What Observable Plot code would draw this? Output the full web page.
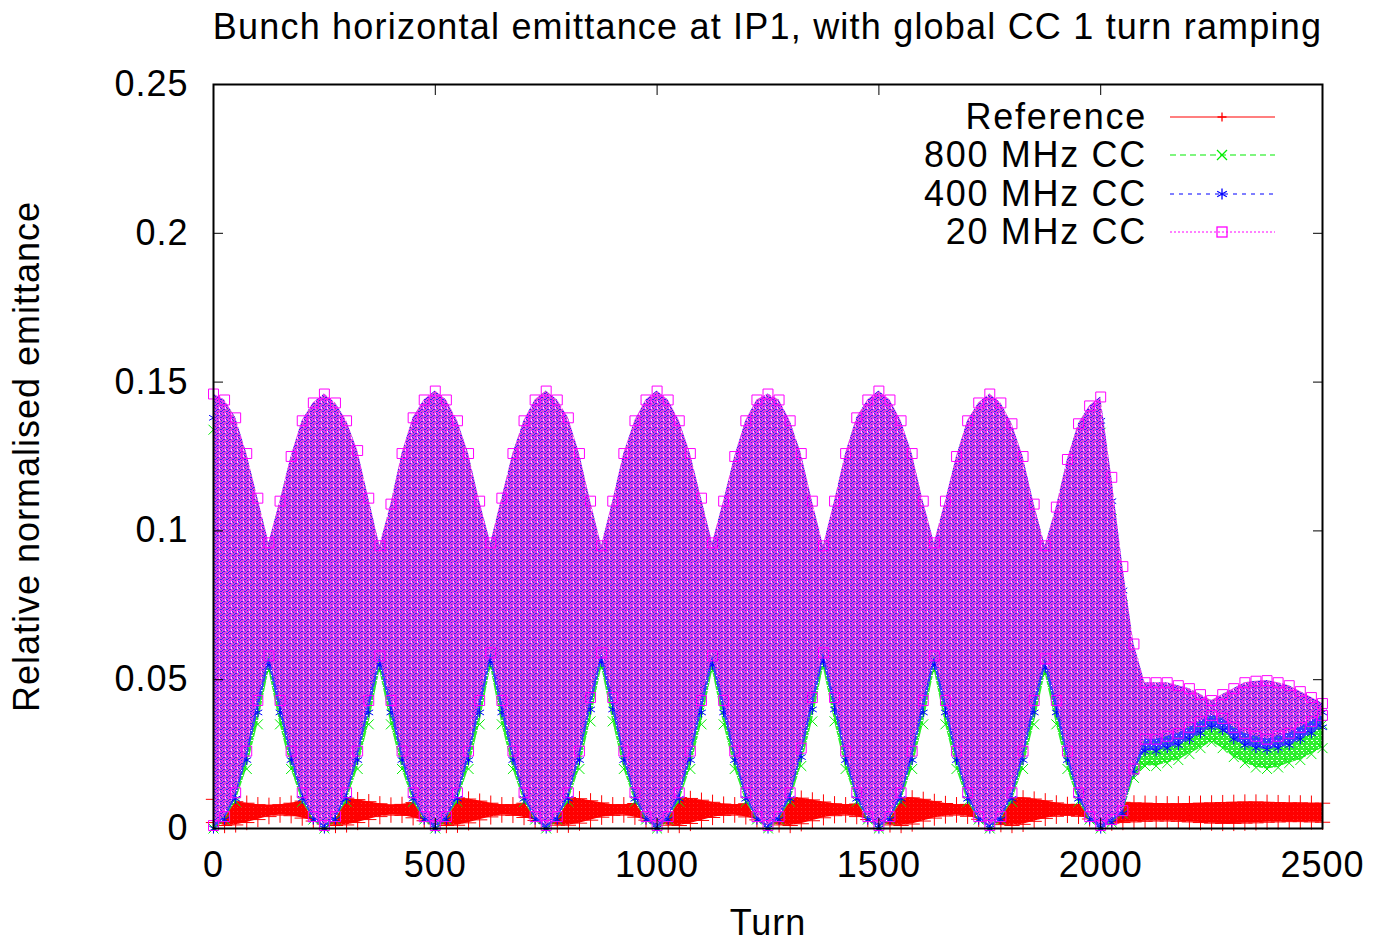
<!DOCTYPE html>
<html>
<head>
<meta charset="utf-8">
<script src="https://cdn.jsdelivr.net/npm/d3@7"></script>
<script src="https://cdn.jsdelivr.net/npm/@observablehq/plot@0.6"></script>
<style>
  body { margin: 0; background: #fff; font-family: "Liberation Sans", Arial, sans-serif; }
  #wrap { position: relative; width: 1373px; height: 942px; overflow: hidden; }
  #title { position: absolute; left: 113px; width: 1309px; top: 0; height: 54px; line-height: 54px; text-align: center; font-size: 36px; letter-spacing: 1.2px; color: #000; white-space: nowrap; }
  #chart { position: absolute; left: 0; top: 54px; }
  .lg-row { position: absolute; height: 38px; line-height: 38px; font-size: 36px; }
  .lg-text { position: absolute; right: 0; width: 420px; text-align: right; white-space: nowrap; letter-spacing: 1.7px; }
</style>
</head>
<body>
<div id="wrap">
  <div id="title">Bunch horizontal emittance at IP1, with global CC 1 turn ramping</div>
  <div id="chart"></div>
  <div id="legend"></div>
</div>
<script>
// ---- data (turn samples every 25 turns, envelope of the fast oscillation) ----
const turns = [0,25,50,75,100,125,150,175,200,225,250,275,300,325,350,375,400,425,450,475,500,
  525,550,575,600,625,650,675,700,725,750,775,800,825,850,875,900,925,950,975,1000,
  1025,1050,1075,1100,1125,1150,1175,1200,1225,1250,1275,1300,1325,1350,1375,1400,1425,1450,1475,1500,
  1525,1550,1575,1600,1625,1650,1675,1700,1725,1750,1775,1800,1825,1850,1875,1900,1925,1950,1975,2000,
  2025,2050,2075,2100,2125,2150,2175,2200,2225,2250,2275,2300,2325,2350,2375,2400,2425,2450,2475,2500];

const refLow = [0.0020,0.0010,0.0012,0.0020,0.0030,0.0040,0.0045,0.0043,0.0035,0.0025,0.0015,
  0.0010,0.0012,0.0020,0.0030,0.0040,0.0045,0.0044,0.0036,0.0026,0.0016,
  0.0010,0.0011,0.0019,0.0029,0.0039,0.0045,0.0044,0.0037,0.0027,0.0017,
  0.0011,0.0011,0.0018,0.0028,0.0038,0.0044,0.0045,0.0038,0.0028,0.0018,
  0.0011,0.0010,0.0017,0.0027,0.0037,0.0044,0.0045,0.0039,0.0029,0.0019,
  0.0012,0.0010,0.0016,0.0026,0.0036,0.0043,0.0045,0.0040,0.0030,0.0020,
  0.0012,0.0010,0.0015,0.0025,0.0035,0.0042,0.0045,0.0041,0.0031,0.0021,
  0.0013,0.0010,0.0014,0.0024,0.0034,0.0041,0.0044,0.0041,0.0032,0.0022,
  0.0018,0.0020,0.0022,0.0024,0.0025,0.0025,0.0024,0.0022,0.0020,0.0018,0.0017,0.0017,0.0018,0.0019,0.0021,0.0022,0.0023,0.0023,0.0022,0.0021];
const refHigh = [0.0098,0.0094,0.0090,0.0085,0.0080,0.0078,0.0080,0.0085,0.0092,0.0098,0.0102,
  0.0104,0.0102,0.0097,0.0090,0.0083,0.0079,0.0081,0.0087,0.0094,0.0100,
  0.0103,0.0103,0.0099,0.0092,0.0085,0.0080,0.0080,0.0085,0.0092,0.0099,
  0.0103,0.0104,0.0100,0.0093,0.0086,0.0080,0.0080,0.0084,0.0091,0.0098,
  0.0102,0.0104,0.0101,0.0095,0.0088,0.0082,0.0080,0.0083,0.0090,0.0097,
  0.0102,0.0104,0.0102,0.0096,0.0089,0.0083,0.0080,0.0082,0.0088,0.0095,
  0.0101,0.0104,0.0103,0.0098,0.0091,0.0084,0.0080,0.0081,0.0087,0.0094,
  0.0100,0.0103,0.0103,0.0099,0.0093,0.0086,0.0081,0.0081,0.0086,0.0092,
  0.0090,0.0088,0.0086,0.0085,0.0084,0.0083,0.0083,0.0084,0.0085,0.0086,0.0087,0.0088,0.0089,0.0089,0.0088,0.0087,0.0086,0.0086,0.0085,0.0085];

const cc800Low = [0.000,0.003,0.009,0.020,0.035,0.053,0.035,0.020,0.009,0.003,0.000,
  0.003,0.009,0.020,0.035,0.053,0.035,0.020,0.009,0.003,0.000,
  0.003,0.009,0.020,0.035,0.054,0.035,0.020,0.009,0.003,0.000,
  0.003,0.009,0.020,0.036,0.054,0.036,0.020,0.009,0.003,0.000,
  0.003,0.009,0.020,0.035,0.053,0.035,0.020,0.009,0.003,0.000,
  0.003,0.009,0.021,0.036,0.054,0.036,0.020,0.009,0.003,0.000,
  0.003,0.009,0.020,0.035,0.053,0.035,0.020,0.009,0.003,0.000,
  0.003,0.009,0.020,0.035,0.052,0.035,0.020,0.009,0.003,0.000,
  0.002,0.005,0.017,0.021,
  0.021,0.022,0.023,0.025,0.027,0.029,0.027,0.024,0.022,0.0205,0.020,0.0205,0.022,0.023,0.025,0.027];
const cc800High = [0.134,0.132,0.126,0.114,0.099,0.085,0.098,0.113,0.125,0.131,0.134,
  0.131,0.125,0.114,0.099,0.084,0.098,0.114,0.126,0.132,0.135,
  0.132,0.125,0.114,0.098,0.085,0.099,0.114,0.125,0.132,0.135,
  0.132,0.126,0.114,0.098,0.084,0.098,0.114,0.125,0.132,0.135,
  0.132,0.125,0.114,0.099,0.085,0.098,0.113,0.125,0.132,0.134,
  0.132,0.125,0.114,0.098,0.084,0.098,0.114,0.126,0.132,0.135,
  0.132,0.125,0.114,0.098,0.085,0.098,0.113,0.125,0.131,0.134,
  0.131,0.124,0.113,0.097,0.084,0.096,0.112,0.124,0.130,0.133,
  0.104,0.075,0.050,0.040,
  0.040,0.040,0.039,0.038,0.037,0.036,0.037,0.038,0.040,0.040,0.041,0.040,0.039,0.038,0.036,0.035];

const cc400Low = [0.000,0.003,0.010,0.023,0.039,0.055,0.039,0.023,0.010,0.003,0.000,
  0.003,0.010,0.023,0.039,0.055,0.039,0.023,0.010,0.003,0.000,
  0.003,0.010,0.023,0.039,0.056,0.039,0.023,0.010,0.003,0.000,
  0.003,0.010,0.023,0.040,0.056,0.040,0.023,0.010,0.003,0.000,
  0.003,0.010,0.023,0.039,0.055,0.039,0.023,0.010,0.003,0.000,
  0.003,0.010,0.024,0.040,0.056,0.040,0.023,0.010,0.003,0.000,
  0.003,0.010,0.023,0.039,0.055,0.039,0.023,0.010,0.003,0.000,
  0.003,0.010,0.023,0.039,0.054,0.039,0.023,0.010,0.003,0.000,
  0.002,0.005,0.019,0.026,
  0.026,0.027,0.028,0.030,0.032,0.034,0.033,0.030,0.028,0.027,0.0265,0.027,0.028,0.030,0.032,0.034];
const cc400High = [0.138,0.136,0.130,0.118,0.103,0.089,0.102,0.117,0.129,0.135,0.138,
  0.135,0.129,0.118,0.103,0.088,0.102,0.118,0.130,0.136,0.139,
  0.136,0.129,0.118,0.102,0.089,0.103,0.118,0.129,0.136,0.139,
  0.136,0.130,0.118,0.102,0.088,0.102,0.118,0.129,0.136,0.139,
  0.136,0.129,0.118,0.103,0.089,0.102,0.117,0.129,0.136,0.138,
  0.136,0.129,0.118,0.102,0.088,0.102,0.118,0.130,0.136,0.139,
  0.136,0.129,0.118,0.102,0.089,0.102,0.117,0.129,0.135,0.138,
  0.135,0.128,0.117,0.101,0.088,0.100,0.116,0.128,0.134,0.137,
  0.110,0.080,0.056,0.045,
  0.045,0.045,0.044,0.043,0.041,0.040,0.041,0.043,0.045,0.045,0.046,0.045,0.044,0.042,0.040,0.039];

const cc20Low = [0.001,0.004,0.012,0.026,0.043,0.058,0.043,0.026,0.012,0.004,0.001,
  0.004,0.012,0.026,0.043,0.058,0.043,0.026,0.012,0.004,0.001,
  0.004,0.012,0.026,0.043,0.059,0.043,0.026,0.012,0.004,0.001,
  0.004,0.012,0.026,0.044,0.059,0.044,0.026,0.012,0.004,0.001,
  0.004,0.012,0.026,0.043,0.058,0.043,0.026,0.012,0.004,0.001,
  0.004,0.012,0.027,0.044,0.059,0.044,0.026,0.012,0.004,0.001,
  0.004,0.012,0.026,0.043,0.058,0.043,0.026,0.012,0.004,0.001,
  0.004,0.012,0.026,0.043,0.057,0.043,0.026,0.012,0.004,0.001,
  0.003,0.006,0.020,0.030,
  0.030,0.031,0.032,0.034,0.036,0.038,0.037,0.034,0.032,0.031,0.030,0.031,0.032,0.034,0.036,0.038];
const cc20High = [0.146,0.144,0.138,0.126,0.111,0.096,0.110,0.125,0.137,0.143,0.146,
  0.143,0.137,0.127,0.111,0.095,0.109,0.126,0.138,0.144,0.147,
  0.144,0.137,0.126,0.110,0.096,0.111,0.126,0.137,0.144,0.147,
  0.144,0.138,0.126,0.110,0.095,0.110,0.126,0.137,0.144,0.147,
  0.144,0.137,0.126,0.111,0.096,0.110,0.125,0.137,0.144,0.146,
  0.144,0.137,0.126,0.110,0.095,0.110,0.126,0.138,0.144,0.147,
  0.144,0.137,0.126,0.110,0.096,0.110,0.125,0.137,0.143,0.146,
  0.143,0.136,0.125,0.109,0.095,0.108,0.124,0.136,0.142,0.145,
  0.118,0.088,0.062,0.049,
  0.049,0.049,0.048,0.047,0.045,0.043,0.045,0.047,0.049,0.0495,0.0497,0.049,0.048,0.046,0.044,0.042];

const seriesNames = ["Reference", "800 MHz CC", "400 MHz CC", "20 MHz CC"];
const seriesColors = ["#ff0000", "#00ee00", "#0000ff", "#ff00ff"];
const seriesSymbols = ["plus", "times", "asterisk", "square"];
const seriesDash = ["none", "6,4", "4,5", "2,2"];

const xTicks = [0, 500, 1000, 1500, 2000, 2500];
const xTickLabels = ["0", "500", "1000", "1500", "2000", "2500"];
const yTicks = [0, 0.05, 0.1, 0.15, 0.2, 0.25];
const yTickLabels = ["0", "0.05", "0.1", "0.15", "0.2", "0.25"];

// ---- build ----
const lows = [refLow, cc800Low, cc400Low, cc20Low];
const highs = [refHigh, cc800High, cc400High, cc20High];
const fills = ["url(#pRed)", "url(#pGreen)", "url(#pBlue)", "url(#pMag)"];
const radii = [5, 4.6, 4.8, 5.6];

const marks = [];
seriesNames.forEach((name, s) => {
  const data = turns.map((t, i) => ({turn: t, lo: lows[s][i], hi: highs[s][i], series: name}));
  marks.push(Plot.areaY(data, {x: "turn", y1: "lo", y2: "hi", fill: fills[s]}));
  marks.push(Plot.dot(data, {x: "turn", y: "lo", symbol: seriesSymbols[s], r: radii[s], stroke: seriesColors[s], fill: "none", strokeWidth: 1}));
  marks.push(Plot.dot(data, {x: "turn", y: "hi", symbol: seriesSymbols[s], r: radii[s], stroke: seriesColors[s], fill: "none", strokeWidth: 1}));
});

const chart = Plot.plot({
  width: 1373,
  height: 888,
  marginTop: 30,
  marginBottom: 114,
  marginLeft: 213,
  marginRight: 51,
  style: {fontSize: "36px", fontFamily: "'Liberation Sans', Arial, sans-serif", letterSpacing: "1px", color: "#000", background: "#fff", overflow: "visible"},
  x: {domain: [0, 2500]},
  y: {domain: [0, 0.25]},
  marks: [
    ...marks,
    Plot.axisX(xTicks, {anchor: "bottom", tickSize: -10, tickPadding: 33, tickFormat: (d, i) => xTickLabels[i], label: "Turn", labelAnchor: "center", labelOffset: 106, labelArrow: "none"}),
    Plot.axisX(xTicks, {anchor: "top", tickSize: -10, fill: "none", tickFormat: () => "", label: null}),
    Plot.axisY(yTicks, {anchor: "left", tickSize: -10, tickPadding: 35, tickFormat: (d, i) => yTickLabels[i], label: "Relative normalised emittance", labelAnchor: "center", labelOffset: 200, labelArrow: "none"}),
    Plot.axisY(yTicks, {anchor: "right", tickSize: -10, fill: "none", tickFormat: () => "", label: null}),
    Plot.frame({stroke: "#000", strokeWidth: 2})
  ]
});

const defs = document.createElementNS("http://www.w3.org/2000/svg", "defs");
defs.innerHTML = `
  <pattern id="pMag" width="6" height="6" patternUnits="userSpaceOnUse">
    <rect width="6" height="6" fill="#e83aee"/>
    <rect x="5" y="0" width="1" height="1" fill="#2a2af0"/>
    <rect x="1" y="1" width="2" height="1" fill="#2a2af0"/>
    <rect x="0" y="2" width="1" height="1" fill="#2a2af0"/>
    <rect x="4" y="3" width="2" height="1" fill="#2a2af0"/>
    <rect x="1" y="4" width="1" height="1" fill="#2a2af0"/>
    <rect x="4" y="5" width="1" height="1" fill="#2a2af0"/>
    <rect x="3" y="0" width="1" height="1" fill="#ffd8ff"/>
    <rect x="3" y="5" width="1" height="1" fill="#ffd8ff"/>
    <rect x="5" y="1" width="1" height="1" fill="#8a9a8a"/>
    <rect x="2" y="3" width="1" height="1" fill="#8a9a8a"/>
  </pattern>
  <pattern id="pBlue" width="5" height="5" patternUnits="userSpaceOnUse">
    <rect width="5" height="5" fill="#3a3aff"/>
    <rect x="1" y="1" width="1" height="1" fill="#ffffff"/>
    <rect x="3" y="3" width="1" height="1" fill="#40e040"/>
  </pattern>
  <pattern id="pGreen" width="5" height="5" patternUnits="userSpaceOnUse">
    <rect width="5" height="5" fill="#30ee30"/>
    <rect x="1" y="1" width="2" height="1" fill="#ffffff"/>
    <rect x="3" y="3" width="1" height="1" fill="#ffffff"/>
  </pattern>
  <pattern id="pRed" width="4" height="4" patternUnits="userSpaceOnUse">
    <rect width="4" height="4" fill="#ff0000"/>
    <rect x="1" y="1" width="1" height="1" fill="#ff3030"/>
  </pattern>`;
chart.insertBefore(defs, chart.firstChild);
document.getElementById("chart").appendChild(chart);

// ---- legend ----
const legend = document.getElementById("legend");
const markerPaths = {
  plus: '<path d="M-4.5,0H4.5M0,-4.5V4.5" />',
  times: '<path d="M-5,-5L5,5M-5,5L5,-5" />',
  asterisk: '<path d="M0,-5.5V5.5M-4.8,-2.8L4.8,2.8M-4.8,2.8L4.8,-2.8" />',
  square: '<rect x="-5" y="-5" width="10" height="10" fill="none" />'
};
seriesNames.forEach((name, s) => {
  const row = document.createElement("div");
  row.className = "lg-row";
  row.style.left = "727px";
  row.style.width = "420px";
  row.style.top = (98 + s * 38.3) + "px";
  row.innerHTML = `<span class="lg-text">${name}</span>`;
  legend.appendChild(row);
  const sw = document.createElement("div");
  sw.className = "lg-row";
  sw.style.left = "1168px";
  sw.style.top = (98 + s * 38.3) + "px";
  sw.innerHTML = `<svg width="110" height="38" style="display:block">
    <line x1="2" y1="19" x2="107" y2="19" stroke="${seriesColors[s]}" stroke-width="1.2" ${seriesDash[s] === "none" ? "" : `stroke-dasharray="${seriesDash[s]}"`} />
    <g transform="translate(54,19)" stroke="${seriesColors[s]}" stroke-width="1.3" fill="none">${markerPaths[seriesSymbols[s]]}</g>
  </svg>`;
  legend.appendChild(sw);
});
</script>
</body>
</html>
